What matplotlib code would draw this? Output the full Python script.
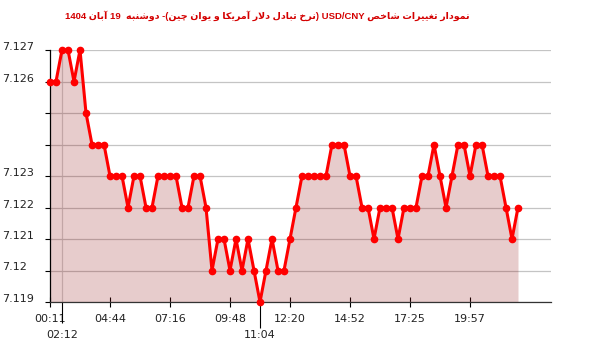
import matplotlib
matplotlib.use("Agg")
import matplotlib.pyplot as plt
import re

# USD/CNY index values, one per sample (equally spaced on the axis)
values = [7.126, 7.126, 7.127, 7.127, 7.126, 7.127, 7.125, 7.124, 7.124, 7.124,
          7.123, 7.123, 7.123, 7.122, 7.123, 7.123, 7.122, 7.122, 7.123, 7.123,
          7.123, 7.123, 7.122, 7.122, 7.123, 7.123, 7.122, 7.120, 7.121, 7.121,
          7.120, 7.121, 7.120, 7.121, 7.120, 7.119, 7.120, 7.121, 7.120, 7.120,
          7.121, 7.122, 7.123, 7.123, 7.123, 7.123, 7.123, 7.124, 7.124, 7.124,
          7.123, 7.123, 7.122, 7.122, 7.121, 7.122, 7.122, 7.122, 7.121, 7.122,
          7.122, 7.122, 7.123, 7.123, 7.124, 7.123, 7.122, 7.123, 7.124, 7.124,
          7.123, 7.124, 7.124, 7.123, 7.123, 7.123, 7.122, 7.121, 7.122]

major_pos = [0, 10, 20, 30, 40, 50, 60, 70]
major_lab = ["00:11", "04:44", "07:16", "09:48", "12:20", "14:52", "17:25", "19:57"]
minor_pos = [2, 35]
minor_lab = ["02:12", "11:04"]

y_ticks = [7.119, 7.120, 7.121, 7.122, 7.123, 7.124, 7.125, 7.126, 7.127]
y_labels = ["7.119", "7.12", "7.121", "7.122", "7.123", "", "", "7.126", "7.127"]

title = "نمودار تغییرات شاخص USD/CNY (نرخ تبادل دلار آمریکا و یوان چین)- دوشنبه  19 آبان 1404"

# --- minimal arabic shaping + bidi (matplotlib does neither) ---
forms = {
    "ا": (0xFE8D, 0xFE8E), "آ": (0xFE81, 0xFE82), "د": (0xFEA9, 0xFEAA),
    "ر": (0xFEAD, 0xFEAE), "و": (0xFEED, 0xFEEE),
    "ب": (0xFE8F, 0xFE90, 0xFE91, 0xFE92), "ت": (0xFE95, 0xFE96, 0xFE97, 0xFE98),
    "چ": (0xFB7A, 0xFB7B, 0xFB7C, 0xFB7D), "خ": (0xFEA5, 0xFEA6, 0xFEA7, 0xFEA8),
    "ش": (0xFEB5, 0xFEB6, 0xFEB7, 0xFEB8), "ص": (0xFEB9, 0xFEBA, 0xFEBB, 0xFEBC),
    "غ": (0xFECD, 0xFECE, 0xFECF, 0xFED0), "ک": (0xFB8E, 0xFB8F, 0xFB90, 0xFB91),
    "ل": (0xFEDD, 0xFEDE, 0xFEDF, 0xFEE0), "م": (0xFEE1, 0xFEE2, 0xFEE3, 0xFEE4),
    "ن": (0xFEE5, 0xFEE6, 0xFEE7, 0xFEE8), "ه": (0xFEE9, 0xFEEA, 0xFEEB, 0xFEEC),
    "ی": (0xFBFC, 0xFBFD, 0xFBFE, 0xFBFF),
}
lamalef = {"ا": (0xFEFB, 0xFEFC), "آ": (0xFEF5, 0xFEF6)}


def dual(c):
    return c in forms and len(forms[c]) == 4


def shape(s):
    out = []
    i = 0
    while i < len(s):
        c = s[i]
        prev = s[i - 1] if i > 0 else ""
        jp = c in forms and dual(prev)
        if c == "ل" and i + 1 < len(s) and s[i + 1] in lamalef:
            out.append(chr(lamalef[s[i + 1]][1 if jp else 0]))
            i += 2
            continue
        if c not in forms:
            out.append(c)
            i += 1
            continue
        nxt = s[i + 1] if i + 1 < len(s) else ""
        jn = dual(c) and nxt in forms
        f = forms[c]
        if jp and jn:
            out.append(chr(f[3]))
        elif jp:
            out.append(chr(f[1]))
        elif jn:
            out.append(chr(f[2]))
        else:
            out.append(chr(f[0]))
        i += 1
    return "".join(out)


def visual(s):
    s = shape(s)
    runs = re.split(r"([A-Za-z0-9/.]+)", s)
    mirror = {"(": ")", ")": "("}
    parts = []
    for k, r in enumerate(runs):
        if k % 2 == 1:
            parts.append(r)
        else:
            parts.append("".join(mirror.get(ch, ch) for ch in reversed(r)))
    return "".join(reversed(parts))


fig = plt.figure(figsize=(6, 3.52), dpi=100)
ax = fig.add_axes([50 / 600, 50 / 352, 501 / 600, 252 / 352])

x = list(range(len(values)))
ax.fill_between(x, values, 7.119, color="#8b0000", alpha=0.2, lw=0, zorder=2)
ax.plot(x, values, color="#ff0000", lw=2.2, marker="o", ms=4.5,
        zorder=3, clip_on=False)

ax.set_xlim(0, 83.5)
ax.set_ylim(7.119, 7.127)

ax.set_yticks(y_ticks)
ax.set_yticklabels(y_labels, ha="left", va="baseline", fontsize=8, color="#222222")
ax.tick_params(axis="y", length=3.6, width=0.8, pad=31)
ax.yaxis.grid(True, color="#c4c4c4", lw=0.9, zorder=0)
ax.set_axisbelow(True)

ax.set_xticks(major_pos)
ax.set_xticklabels(major_lab, fontsize=8, color="#222222")
ax.set_xticks(minor_pos, minor=True)
ax.set_xticklabels(minor_lab, minor=True, fontsize=8, color="#222222")
ax.tick_params(axis="x", which="major", direction="inout", length=7, width=0.8, pad=5.5)
ax.tick_params(axis="x", which="minor", direction="out", length=15, width=0.8, pad=5)
mt = ax.xaxis.get_minor_ticks()
mt[0].tick1line.set_color("#d0d0d0")
mt[1].tick1line.set_markersize(19)
ax.axvline(2, color="#d0d0d0", lw=0.9, zorder=0)

for side in ["top", "right"]:
    ax.spines[side].set_visible(False)
ax.spines["left"].set_color("black")
ax.spines["bottom"].set_color("#333333")
ax.spines["left"].set_linewidth(0.9)
ax.spines["bottom"].set_linewidth(0.9)

fig.text(267 / 600, 1 - 16 / 352, visual(title), ha="center", va="center",
         fontsize=6.8, fontweight="bold", color="#d40000",
         family=["Liberation Sans", "DejaVu Sans"])

fig.savefig("out.png", dpi=100)
